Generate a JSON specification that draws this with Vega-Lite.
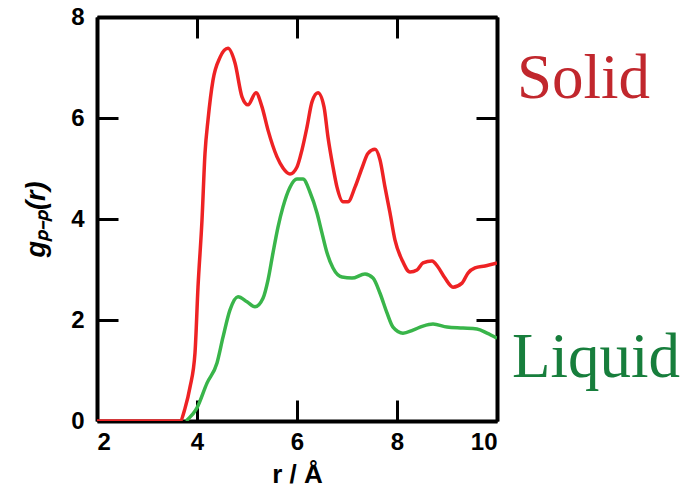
{
  "$schema": "https://vega.github.io/schema/vega-lite/v6.json",
  "width": 400,
  "height": 404,
  "autosize": "none",
  "padding": {"left": 97, "top": 17, "right": 192, "bottom": 70},
  "background": "white",
  "config": {
    "view": {"stroke": null},
    "axis": {
      "grid": false,
      "domainColor": "black",
      "domainWidth": 4,
      "tickColor": "black",
      "tickWidth": 3,
      "tickSize": -21,
      "labelFont": "Liberation Sans",
      "labelFontWeight": "bold",
      "labelFontSize": 24,
      "labelColor": "black",
      "titleFont": "Liberation Sans",
      "titleColor": "black",
      "titleFontWeight": "bold"
    }
  },
  "layer": [
    {
      "data": {
        "values": [
          {"r": 2.0, "g": 0, "phase": "Solid"},
          {"r": 3.66, "g": 0, "phase": "Solid"},
          {"r": 3.76, "g": 0.25, "phase": "Solid"},
          {"r": 3.86, "g": 0.67, "phase": "Solid"},
          {"r": 3.96, "g": 1.35, "phase": "Solid"},
          {"r": 4.02, "g": 2.65, "phase": "Solid"},
          {"r": 4.1, "g": 3.98, "phase": "Solid"},
          {"r": 4.16, "g": 5.3, "phase": "Solid"},
          {"r": 4.22, "g": 5.96, "phase": "Solid"},
          {"r": 4.32, "g": 6.75, "phase": "Solid"},
          {"r": 4.46, "g": 7.2, "phase": "Solid"},
          {"r": 4.62, "g": 7.38, "phase": "Solid"},
          {"r": 4.76, "g": 7.09, "phase": "Solid"},
          {"r": 4.9, "g": 6.42, "phase": "Solid"},
          {"r": 5.02, "g": 6.26, "phase": "Solid"},
          {"r": 5.18, "g": 6.5, "phase": "Solid"},
          {"r": 5.3, "g": 6.22, "phase": "Solid"},
          {"r": 5.42, "g": 5.76, "phase": "Solid"},
          {"r": 5.6, "g": 5.23, "phase": "Solid"},
          {"r": 5.72, "g": 5.01, "phase": "Solid"},
          {"r": 5.86, "g": 4.89, "phase": "Solid"},
          {"r": 6.0, "g": 5.03, "phase": "Solid"},
          {"r": 6.1, "g": 5.37, "phase": "Solid"},
          {"r": 6.2, "g": 5.82, "phase": "Solid"},
          {"r": 6.3, "g": 6.32, "phase": "Solid"},
          {"r": 6.42, "g": 6.5, "phase": "Solid"},
          {"r": 6.54, "g": 6.22, "phase": "Solid"},
          {"r": 6.62, "g": 5.62, "phase": "Solid"},
          {"r": 6.72, "g": 5.03, "phase": "Solid"},
          {"r": 6.8, "g": 4.63, "phase": "Solid"},
          {"r": 6.92, "g": 4.34, "phase": "Solid"},
          {"r": 7.02, "g": 4.34, "phase": "Solid"},
          {"r": 7.16, "g": 4.63, "phase": "Solid"},
          {"r": 7.3, "g": 5.01, "phase": "Solid"},
          {"r": 7.42, "g": 5.3, "phase": "Solid"},
          {"r": 7.56, "g": 5.38, "phase": "Solid"},
          {"r": 7.66, "g": 5.17, "phase": "Solid"},
          {"r": 7.76, "g": 4.63, "phase": "Solid"},
          {"r": 7.86, "g": 4.12, "phase": "Solid"},
          {"r": 7.96, "g": 3.58, "phase": "Solid"},
          {"r": 8.1, "g": 3.19, "phase": "Solid"},
          {"r": 8.26, "g": 2.95, "phase": "Solid"},
          {"r": 8.4, "g": 2.99, "phase": "Solid"},
          {"r": 8.52, "g": 3.13, "phase": "Solid"},
          {"r": 8.7, "g": 3.17, "phase": "Solid"},
          {"r": 8.82, "g": 3.05, "phase": "Solid"},
          {"r": 8.96, "g": 2.83, "phase": "Solid"},
          {"r": 9.12, "g": 2.65, "phase": "Solid"},
          {"r": 9.3, "g": 2.73, "phase": "Solid"},
          {"r": 9.42, "g": 2.93, "phase": "Solid"},
          {"r": 9.56, "g": 3.03, "phase": "Solid"},
          {"r": 9.76, "g": 3.07, "phase": "Solid"},
          {"r": 10.0, "g": 3.13, "phase": "Solid"},
          {"r": 3.78, "g": 0, "phase": "Liquid"},
          {"r": 4.0, "g": 0.26, "phase": "Liquid"},
          {"r": 4.2, "g": 0.75, "phase": "Liquid"},
          {"r": 4.4, "g": 1.15, "phase": "Liquid"},
          {"r": 4.52, "g": 1.66, "phase": "Liquid"},
          {"r": 4.66, "g": 2.2, "phase": "Liquid"},
          {"r": 4.82, "g": 2.46, "phase": "Liquid"},
          {"r": 5.0, "g": 2.36, "phase": "Liquid"},
          {"r": 5.16, "g": 2.26, "phase": "Liquid"},
          {"r": 5.32, "g": 2.43, "phase": "Liquid"},
          {"r": 5.42, "g": 2.79, "phase": "Liquid"},
          {"r": 5.52, "g": 3.33, "phase": "Liquid"},
          {"r": 5.62, "g": 3.84, "phase": "Liquid"},
          {"r": 5.72, "g": 4.24, "phase": "Liquid"},
          {"r": 5.86, "g": 4.63, "phase": "Liquid"},
          {"r": 6.0, "g": 4.79, "phase": "Liquid"},
          {"r": 6.12, "g": 4.79, "phase": "Liquid"},
          {"r": 6.26, "g": 4.53, "phase": "Liquid"},
          {"r": 6.4, "g": 4.12, "phase": "Liquid"},
          {"r": 6.5, "g": 3.72, "phase": "Liquid"},
          {"r": 6.6, "g": 3.33, "phase": "Liquid"},
          {"r": 6.72, "g": 3.03, "phase": "Liquid"},
          {"r": 6.9, "g": 2.85, "phase": "Liquid"},
          {"r": 7.1, "g": 2.83, "phase": "Liquid"},
          {"r": 7.36, "g": 2.91, "phase": "Liquid"},
          {"r": 7.52, "g": 2.83, "phase": "Liquid"},
          {"r": 7.66, "g": 2.53, "phase": "Liquid"},
          {"r": 7.8, "g": 2.14, "phase": "Liquid"},
          {"r": 7.92, "g": 1.86, "phase": "Liquid"},
          {"r": 8.12, "g": 1.74, "phase": "Liquid"},
          {"r": 8.32, "g": 1.8, "phase": "Liquid"},
          {"r": 8.52, "g": 1.88, "phase": "Liquid"},
          {"r": 8.72, "g": 1.92, "phase": "Liquid"},
          {"r": 9.0, "g": 1.86, "phase": "Liquid"},
          {"r": 9.32, "g": 1.84, "phase": "Liquid"},
          {"r": 9.6, "g": 1.82, "phase": "Liquid"},
          {"r": 9.8, "g": 1.74, "phase": "Liquid"},
          {"r": 10.0, "g": 1.64, "phase": "Liquid"}
        ]
      },
      "mark": {"type": "line", "strokeWidth": 3.5, "interpolate": "monotone", "clip": true},
      "encoding": {
        "x": {
          "field": "r", "type": "quantitative",
          "scale": {"domain": [2, 10], "nice": false},
          "axis": {"orient": "bottom", "values": [2, 4, 6, 8, 10], "title": "r / Å", "titleFontSize": 26, "titlePadding": 7, "labelPadding": 30}
        },
        "y": {
          "field": "g", "type": "quantitative",
          "scale": {"domain": [0, 8], "nice": false},
          "axis": {"orient": "left", "values": [0, 2, 4, 6, 8], "title": "gₚ₋ₚ(r)", "titleFontSize": 27, "titleFontStyle": "italic", "titlePadding": 20, "labelPadding": 34}
        },
        "color": {
          "field": "phase", "type": "nominal",
          "scale": {"domain": ["Solid", "Liquid"], "range": ["#ee2224", "#39b54a"]},
          "legend": null
        }
      }
    },
    {
      "data": {
        "values": [
          {"x": 10.4, "y": 6.4, "label": "Solid"},
          {"x": 10.3, "y": 0.87, "label": "Liquid"}
        ]
      },
      "mark": {"type": "text", "font": "Liberation Serif", "fontSize": 63, "align": "left", "baseline": "alphabetic", "clip": false},
      "encoding": {
        "x": {"field": "x", "type": "quantitative", "axis": {"orient": "top", "values": [2, 4, 6, 8, 10], "labels": false, "title": null}},
        "y": {"field": "y", "type": "quantitative", "axis": {"orient": "right", "values": [0, 2, 4, 6, 8], "labels": false, "title": null}},
        "text": {"field": "label"},
        "color": {
          "field": "label", "type": "nominal",
          "scale": {"domain": ["Solid", "Liquid"], "range": ["#c1272d", "#177e3c"]},
          "legend": null
        }
      }
    }
  ],
  "resolve": {"axis": {"x": "independent", "y": "independent"}, "scale": {"color": "independent"}}
}
